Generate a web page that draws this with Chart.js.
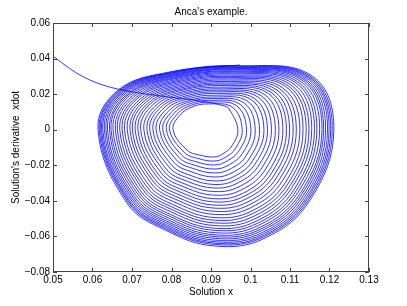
<!DOCTYPE html>
<html>
<head>
<meta charset="utf-8">
<script src="https://cdn.jsdelivr.net/npm/chart.js@4"></script>
<style>
  html, body { margin: 0; padding: 0; background: #fff; }
</style>
</head>
<body>
<canvas id="chart" width="407" height="306"></canvas>
<script>
const chartTitle = "Anca's example.";
const xTicks = [0.05, 0.06, 0.07, 0.08, 0.09, 0.10, 0.11, 0.12, 0.13];
const xTickLabels = ['0.05', '0.06', '0.07', '0.08', '0.09', '0.1', '0.11', '0.12', '0.13'];
const yTicks = [-0.08, -0.06, -0.04, -0.02, 0, 0.02, 0.04, 0.06];
const yTickLabels = ['\u22120.08', '\u22120.06', '\u22120.04', '\u22120.02', '0', '0.02', '0.04', '0.06'];

// transient coming in from the left edge
const startX = [0.0500, 0.0530, 0.0568, 0.0619, 0.0677, 0.0771, 0.0872, 0.0935];
const startY = [0.0414, 0.0364, 0.0308, 0.0257, 0.0223, 0.0190, 0.0162, 0.0133];

// spiral, read loop by loop (innermost first), clockwise crossings
const eastWestY = 0;      // W and E crossings are on y = 0
const southX = 0.091;     // S crossings
const loopNEx = [0.0946,0.0955,0.0965,0.0974,0.0984,0.0993,0.1003,0.1011,0.1020,0.1028,0.1036,0.1045,0.1052,0.1059,0.1067,0.1074,0.1081,0.1089,0.1095,0.1101,0.1108,0.1114,0.1119,0.1125,0.1130,0.1134,0.1138,0.1142,0.1146,0.1149,0.1152,0.1156];
const loopNEy = [0.0117,0.0125,0.0134,0.0142,0.0150,0.0159,0.0167,0.0174,0.0182,0.0189,0.0197,0.0204,0.0210,0.0217,0.0223,0.0230,0.0236,0.0243,0.0248,0.0254,0.0259,0.0265,0.0270,0.0274,0.0279,0.0283,0.0286,0.0290,0.0293,0.0296,0.0299,0.0302];
const loopEx = [0.0968,0.0979,0.0990,0.1001,0.1012,0.1023,0.1034,0.1043,0.1053,0.1063,0.1072,0.1082,0.1091,0.1099,0.1108,0.1116,0.1125,0.1133,0.1141,0.1148,0.1155,0.1162,0.1168,0.1175,0.1181,0.1185,0.1190,0.1195,0.1199,0.1203,0.1207,0.1211];
const loopSEx = [0.0953,0.0962,0.0971,0.0980,0.0989,0.0998,0.1006,0.1014,0.1022,0.1030,0.1038,0.1046,0.1053,0.1060,0.1067,0.1074,0.1081,0.1088,0.1094,0.1100,0.1105,0.1111,0.1116,0.1121,0.1126,0.1130,0.1134,0.1138,0.1142,0.1145,0.1148,0.1151];
const loopSEy = [-0.0091,-0.0105,-0.0118,-0.0132,-0.0146,-0.0159,-0.0173,-0.0185,-0.0197,-0.0210,-0.0222,-0.0234,-0.0245,-0.0255,-0.0266,-0.0276,-0.0287,-0.0298,-0.0307,-0.0316,-0.0325,-0.0334,-0.0342,-0.0349,-0.0357,-0.0363,-0.0369,-0.0375,-0.0380,-0.0385,-0.0390,-0.0395];
const loopSSEx = [0.0933,0.0938,0.0942,0.0947,0.0952,0.0956,0.0961,0.0965,0.0969,0.0974,0.0978,0.0982,0.0986,0.0989,0.0993,0.0996,0.1000,0.1004,0.1007,0.1010,0.1013,0.1016,0.1019,0.1021,0.1024,0.1026,0.1028,0.1030,0.1032,0.1034,0.1035,0.1037];
const loopSSEy = [-0.0131,-0.0153,-0.0174,-0.0196,-0.0217,-0.0239,-0.0260,-0.0279,-0.0298,-0.0317,-0.0337,-0.0356,-0.0372,-0.0389,-0.0406,-0.0423,-0.0439,-0.0456,-0.0470,-0.0485,-0.0499,-0.0513,-0.0525,-0.0537,-0.0549,-0.0559,-0.0568,-0.0578,-0.0586,-0.0594,-0.0601,-0.0609];
const loopSy = [-0.0153,-0.0176,-0.0198,-0.0221,-0.0243,-0.0266,-0.0288,-0.0308,-0.0328,-0.0348,-0.0368,-0.0388,-0.0406,-0.0424,-0.0441,-0.0459,-0.0476,-0.0494,-0.0509,-0.0524,-0.0539,-0.0554,-0.0566,-0.0579,-0.0591,-0.0601,-0.0611,-0.0621,-0.0630,-0.0638,-0.0645,-0.0654];
const loopSSWx = [0.0870,0.0866,0.0862,0.0858,0.0855,0.0851,0.0847,0.0843,0.0840,0.0836,0.0833,0.0830,0.0827,0.0824,0.0821,0.0818,0.0815,0.0812,0.0809,0.0806,0.0804,0.0801,0.0799,0.0797,0.0795,0.0793,0.0791,0.0790,0.0788,0.0787,0.0785,0.0784];
const loopSSWy = [-0.0142,-0.0161,-0.0180,-0.0199,-0.0218,-0.0237,-0.0256,-0.0273,-0.0290,-0.0307,-0.0323,-0.0340,-0.0355,-0.0370,-0.0385,-0.0399,-0.0414,-0.0429,-0.0442,-0.0454,-0.0467,-0.0480,-0.0490,-0.0501,-0.0511,-0.0520,-0.0528,-0.0537,-0.0544,-0.0551,-0.0557,-0.0564];
const loopSWx = [0.0840,0.0833,0.0826,0.0819,0.0812,0.0806,0.0799,0.0793,0.0786,0.0780,0.0774,0.0768,0.0763,0.0757,0.0752,0.0747,0.0741,0.0736,0.0731,0.0727,0.0722,0.0718,0.0714,0.0710,0.0706,0.0703,0.0700,0.0697,0.0694,0.0692,0.0690,0.0687];
const loopSWy = [-0.0116,-0.0129,-0.0143,-0.0156,-0.0169,-0.0183,-0.0196,-0.0208,-0.0220,-0.0231,-0.0243,-0.0255,-0.0265,-0.0276,-0.0286,-0.0297,-0.0307,-0.0317,-0.0326,-0.0335,-0.0344,-0.0353,-0.0360,-0.0368,-0.0375,-0.0381,-0.0387,-0.0393,-0.0398,-0.0403,-0.0407,-0.0412];
const loopWx = [0.0804,0.0795,0.0787,0.0778,0.0770,0.0761,0.0753,0.0745,0.0738,0.0730,0.0722,0.0715,0.0708,0.0701,0.0695,0.0688,0.0681,0.0675,0.0669,0.0663,0.0658,0.0652,0.0647,0.0643,0.0638,0.0634,0.0630,0.0626,0.0623,0.0620,0.0617,0.0614];
const loopNWx = [0.0822,0.0815,0.0808,0.0801,0.0794,0.0787,0.0780,0.0773,0.0767,0.0761,0.0754,0.0748,0.0743,0.0737,0.0732,0.0726,0.0721,0.0715,0.0711,0.0706,0.0701,0.0696,0.0692,0.0689,0.0685,0.0681,0.0678,0.0675,0.0673,0.0670,0.0668,0.0665];
const loopNWy = [0.0083,0.0089,0.0096,0.0102,0.0108,0.0115,0.0121,0.0126,0.0132,0.0138,0.0143,0.0149,0.0154,0.0159,0.0164,0.0168,0.0173,0.0178,0.0182,0.0187,0.0191,0.0195,0.0199,0.0202,0.0206,0.0208,0.0211,0.0214,0.0216,0.0219,0.0221,0.0223];
const loopNNWx = [0.0852,0.0849,0.0847,0.0844,0.0842,0.0839,0.0837,0.0835,0.0832,0.0830,0.0828,0.0826,0.0824,0.0822,0.0820,0.0818,0.0816,0.0814,0.0812,0.0811,0.0809,0.0807,0.0806,0.0804,0.0803,0.0802,0.0801,0.0800,0.0799,0.0798,0.0797,0.0796];
const loopNNWy = [0.0128,0.0137,0.0146,0.0155,0.0163,0.0172,0.0181,0.0189,0.0197,0.0205,0.0213,0.0221,0.0227,0.0234,0.0241,0.0248,0.0255,0.0262,0.0268,0.0274,0.0280,0.0286,0.0291,0.0295,0.0300,0.0304,0.0308,0.0312,0.0316,0.0319,0.0322,0.0325];
const loopNx = [0.0892,0.0896,0.0899,0.0903,0.0907,0.0910,0.0914,0.0917,0.0920,0.0924,0.0927,0.0930,0.0933,0.0936,0.0939,0.0941,0.0944,0.0947,0.0950,0.0952,0.0954,0.0957,0.0959,0.0961,0.0963,0.0965,0.0966,0.0968,0.0969,0.0970,0.0972,0.0973];
const loopNy = [0.0145,0.0155,0.0165,0.0175,0.0184,0.0194,0.0204,0.0213,0.0222,0.0230,0.0239,0.0248,0.0256,0.0263,0.0271,0.0279,0.0286,0.0294,0.0300,0.0307,0.0314,0.0320,0.0326,0.0331,0.0337,0.0341,0.0345,0.0350,0.0353,0.0357,0.0360,0.0364];

const points = startX.map((x, i) => ({ x: x, y: startY[i] }));
for (let k = 0; k < loopNEx.length; k++) {
  points.push({ x: loopNEx[k], y: loopNEy[k] });
  points.push({ x: loopEx[k], y: eastWestY });
  points.push({ x: loopSEx[k], y: loopSEy[k] });
  points.push({ x: loopSSEx[k], y: loopSSEy[k] });
  points.push({ x: southX, y: loopSy[k] });
  points.push({ x: loopSSWx[k], y: loopSSWy[k] });
  points.push({ x: loopSWx[k], y: loopSWy[k] });
  points.push({ x: loopWx[k], y: eastWestY });
  points.push({ x: loopNWx[k], y: loopNWy[k] });
  points.push({ x: loopNNWx[k], y: loopNNWy[k] });
  points.push({ x: loopNx[k], y: loopNy[k] });
}

const fontFamily = '"Liberation Sans", Arial, Helvetica, sans-serif';

// box, inward ticks on all four sides, title
const framePlugin = {
  id: 'frame',
  afterDatasetsDraw(chart) {
    const { ctx, chartArea: a, scales: { x, y } } = chart;
    const len = 4;
    ctx.save();
    ctx.strokeStyle = '#444';
    ctx.lineWidth = 1;
    ctx.strokeRect(a.left + 0.5, a.top + 0.5, a.right - a.left - 1, a.bottom - a.top - 1);
    ctx.beginPath();
    xTicks.forEach(v => {
      const px = Math.round(x.getPixelForValue(v)) + 0.5;
      ctx.moveTo(px, a.bottom); ctx.lineTo(px, a.bottom - len);
      ctx.moveTo(px, a.top); ctx.lineTo(px, a.top + len);
    });
    yTicks.forEach(v => {
      const py = Math.round(y.getPixelForValue(v)) + 0.5;
      ctx.moveTo(a.left, py); ctx.lineTo(a.left + len, py);
      ctx.moveTo(a.right, py); ctx.lineTo(a.right - len, py);
    });
    ctx.stroke();
    ctx.fillStyle = '#000';
    ctx.font = '10px ' + fontFamily;
    ctx.textAlign = 'center';
    ctx.textBaseline = 'middle';
    ctx.fillText(chartTitle, (a.left + a.right) / 2, 12);
    ctx.restore();
  }
};

new Chart(document.getElementById('chart'), {
  type: 'scatter',
  data: {
    datasets: [{
      data: points,
      showLine: true,
      borderColor: '#0000ff',
      borderWidth: 0.8,
      pointRadius: 0,
      tension: 0.4,
      fill: false
    }]
  },
  options: {
    responsive: false,
    animation: false,
    devicePixelRatio: 1,
    layout: { padding: { left: 0, right: 38, top: 23, bottom: 0 } },
    plugins: { legend: { display: false }, tooltip: { enabled: false } },
    scales: {
      x: {
        type: 'linear', min: 0.05, max: 0.13,
        grid: { display: false, drawTicks: false },
        border: { display: false },
        afterBuildTicks: s => { s.ticks = xTicks.map(v => ({ value: v })); },
        afterFit: s => { s.height = 34; },
        ticks: {
          padding: 2, color: '#000', maxRotation: 0, autoSkip: false,
          font: { family: fontFamily, size: 10 },
          callback: (v, i) => xTickLabels[i]
        },
        title: {
          display: true, text: 'Solution x', color: '#000',
          font: { family: fontFamily, size: 10 },
          padding: { top: 0, bottom: 8 }
        }
      },
      y: {
        type: 'linear', min: -0.08, max: 0.06,
        grid: { display: false, drawTicks: false },
        border: { display: false },
        afterBuildTicks: s => { s.ticks = yTicks.map(v => ({ value: v })); },
        afterFit: s => { s.width = 53; },
        ticks: {
          padding: 3, color: '#000', autoSkip: false,
          font: { family: fontFamily, size: 10 },
          callback: (v, i) => yTickLabels[i]
        },
        title: {
          display: true, text: "Solution's derivative  xdot", color: '#000',
          font: { family: fontFamily, size: 10 },
          padding: { top: 10, bottom: 0 }
        }
      }
    }
  },
  plugins: [framePlugin]
});
</script>
</body>
</html>
